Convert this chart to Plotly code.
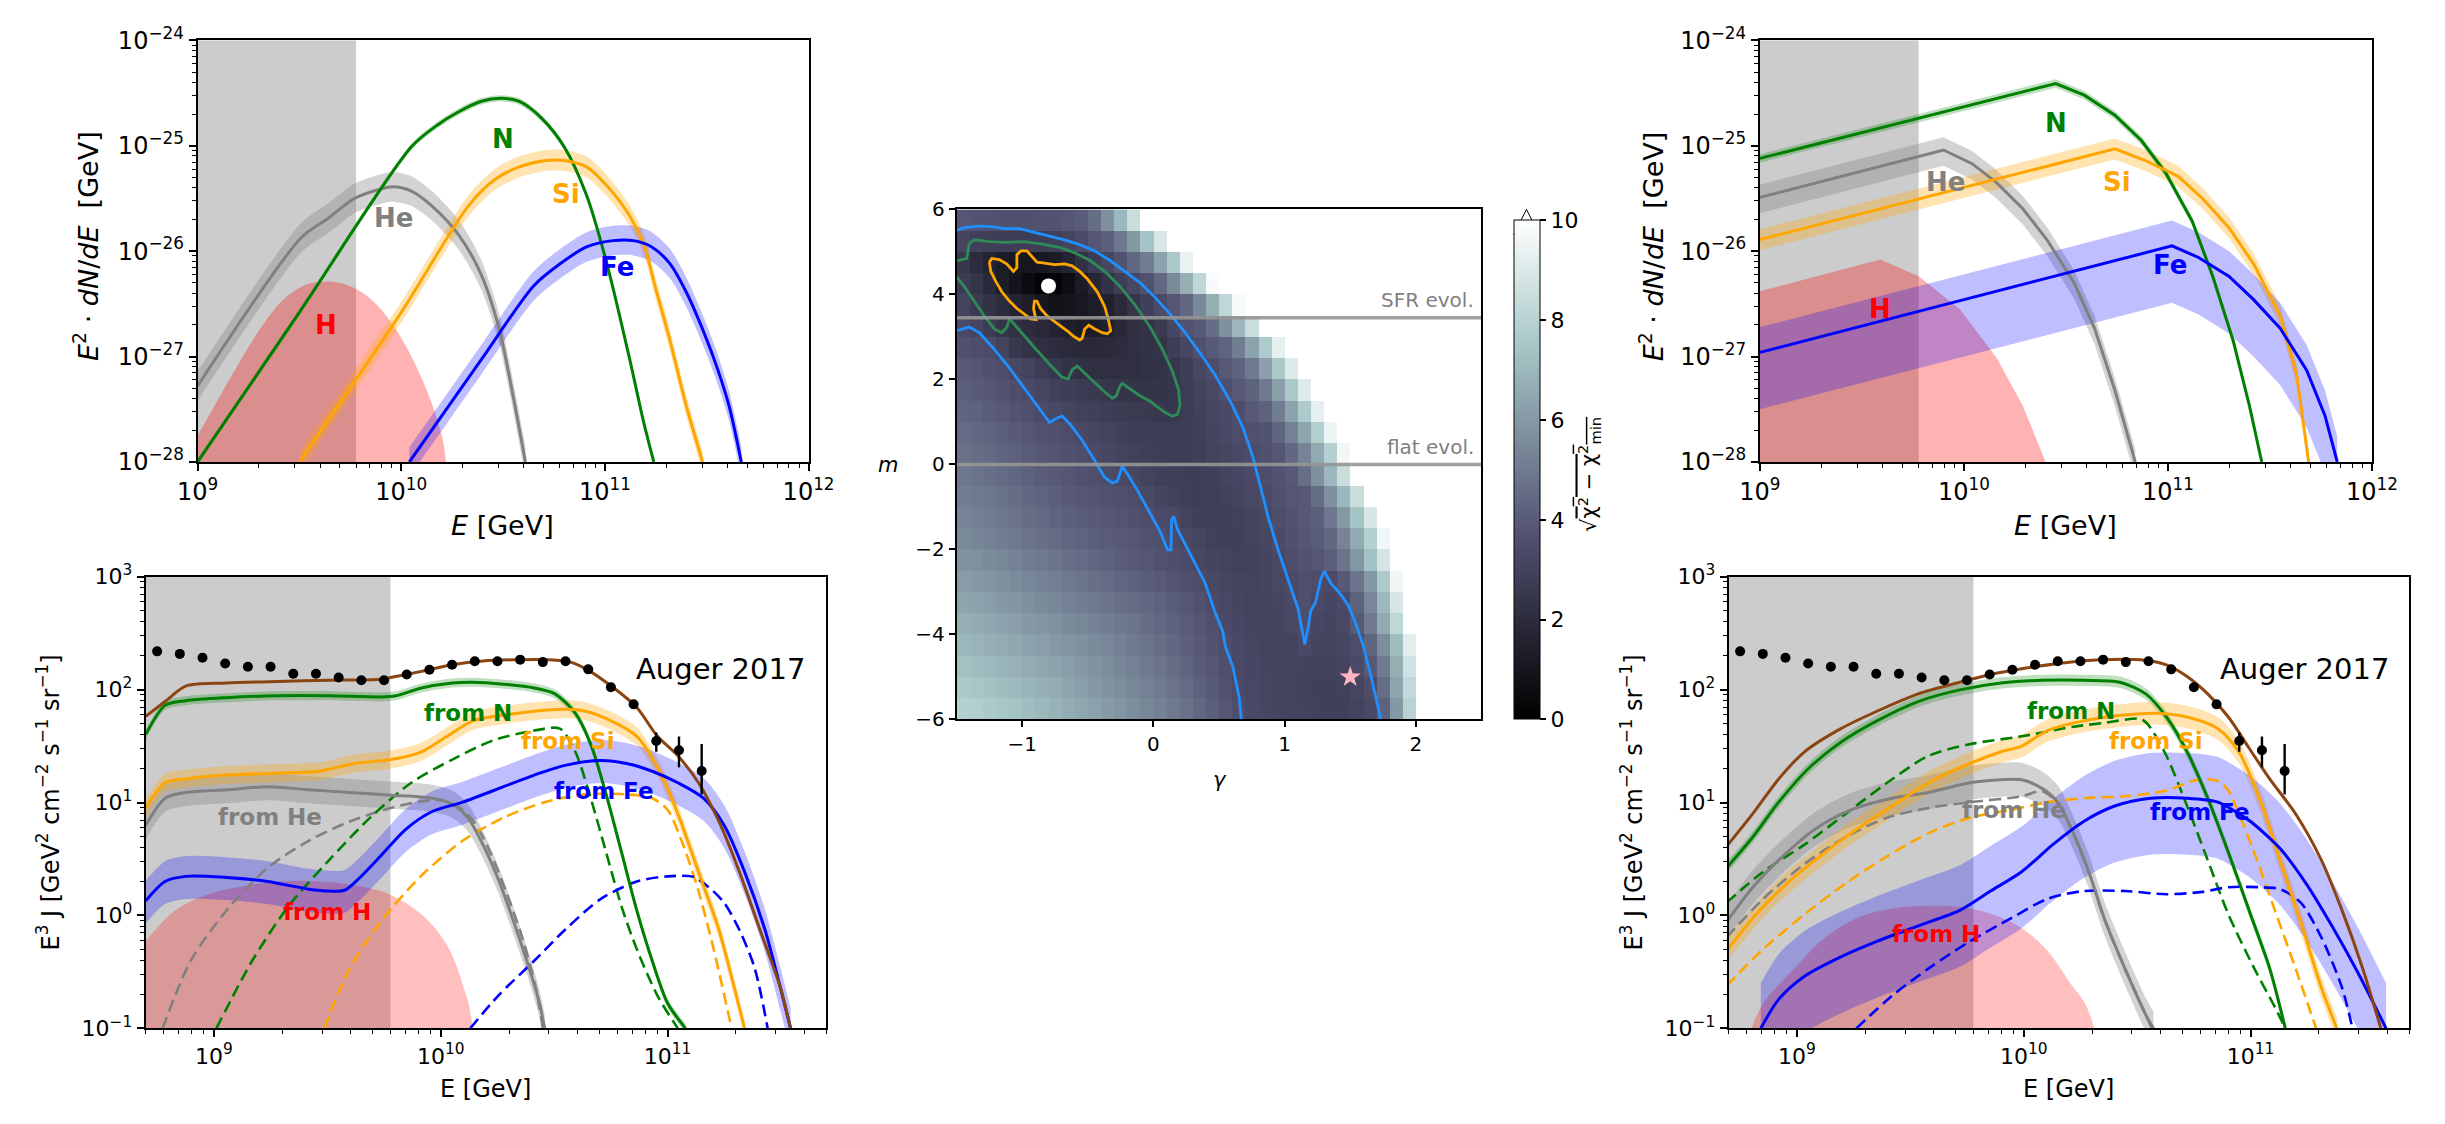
import numpy as np
import plotly.graph_objects as go

W, H = 2445, 1124

# ---------------- Auger 2017 combined spectrum (log10 E/GeV, E^3 J) ----------------
auger_logE = [8.75, 8.85, 8.95, 9.05, 9.15, 9.25, 9.35, 9.45, 9.55, 9.65, 9.75, 9.85, 9.95,
              10.05, 10.15, 10.25, 10.35, 10.45, 10.55, 10.65, 10.75, 10.85, 10.95, 11.05, 11.15]
auger_J = [218, 207, 191, 170, 159, 159, 138, 138, 128, 121, 121, 136, 150,
           166, 178, 178, 184, 175, 178, 151, 105, 74, 35, 29, 19]
auger_err_hi = [0] * 22 + [6.7, 9.5, 13.9]
auger_err_lo = [0] * 22 + [6.9, 8.5, 7.2]

# ---------------- source spectra, scenario A (log10 E, log10 E^2 dN/dE) ----------------
tl_He_E = [9.0, 9.51, 9.64, 9.77, 9.90, 9.96, 10.05, 10.15, 10.28, 10.39, 10.48, 10.54, 10.61]
tl_He_F = [-27.28, -25.87, -25.69, -25.50, -25.41, -25.39, -25.43, -25.57, -25.84, -26.21, -26.73, -27.28, -28.0]
tl_N_E = [9.0, 9.5, 10.05, 10.18, 10.28, 10.39, 10.49, 10.58, 10.69, 10.80, 10.91, 11.01, 11.12, 11.19, 11.24]
tl_N_F = [-28.0, -26.58, -25.01, -24.80, -24.68, -24.58, -24.55, -24.58, -24.74, -25.01, -25.47, -26.12, -27.01, -27.62, -28.0]
tl_Si_E = [9.50, 10.0, 10.33, 10.46, 10.58, 10.71, 10.80, 10.91, 11.01, 11.12, 11.19, 11.25, 11.32, 11.40, 11.48]
tl_Si_F = [-28.0, -26.58, -25.57, -25.32, -25.20, -25.14, -25.14, -25.20, -25.38, -25.66, -25.93, -26.36, -26.85, -27.47, -28.0]
tl_Fe_E = [10.04, 10.4, 10.65, 10.78, 10.91, 11.04, 11.14, 11.23, 11.32, 11.40, 11.49, 11.55, 11.61, 11.67]
tl_Fe_F = [-28.0, -27.01, -26.33, -26.12, -25.96, -25.90, -25.90, -25.96, -26.12, -26.39, -26.79, -27.1, -27.47, -28.0]
tl_H_E = [9.0, 9.10, 9.21, 9.32, 9.42, 9.53, 9.66, 9.77, 9.87, 9.98, 10.09, 10.18, 10.22]
tl_H_F = [-27.75, -27.41, -27.04, -26.70, -26.46, -26.32, -26.29, -26.35, -26.49, -26.76, -27.16, -27.62, -28.0]

# ---------------- source spectra, scenario B ----------------
tr_N_E = [9.0, 9.7, 10.45, 10.59, 10.74, 10.87, 10.99, 11.12, 11.22, 11.32, 11.40, 11.46]
tr_N_F = [-25.12, -24.78, -24.41, -24.52, -24.71, -24.95, -25.26, -25.72, -26.24, -26.85, -27.47, -28.0]
tr_He_E = [9.0, 9.90, 10.04, 10.16, 10.29, 10.41, 10.54, 10.64, 10.74, 10.84]
tr_He_F = [-25.49, -25.04, -25.17, -25.35, -25.60, -25.90, -26.30, -26.73, -27.32, -28.0]
tr_Si_E = [9.0, 10.74, 10.89, 11.05, 11.17, 11.30, 11.42, 11.55, 11.63, 11.69]
tr_Si_F = [-25.89, -25.03, -25.14, -25.29, -25.50, -25.78, -26.12, -26.61, -27.16, -28.0]
tr_Fe_E = [9.0, 11.02, 11.15, 11.30, 11.42, 11.55, 11.68, 11.77, 11.83]
tr_Fe_F = [-26.96, -25.95, -26.06, -26.24, -26.46, -26.73, -27.13, -27.56, -28.0]
tr_H_E = [9.0, 9.59, 9.78, 9.98, 10.16, 10.29, 10.40]
tr_H_F = [-26.38, -26.08, -26.24, -26.55, -27.01, -27.47, -28.0]

# ---------------- propagated spectra, scenario A (log10 E, log10 E^3 J) ----------------
bl_tot_E = [8.70, 8.785, 8.876, 9.056, 9.282, 9.508, 9.734, 9.802, 9.915, 10.051, 10.186, 10.322, 10.48,
            10.571, 10.638, 10.751, 10.864, 10.955, 11.045, 11.136, 11.226, 11.316, 11.407, 11.497, 11.542]
bl_tot_J = [1.764, 1.894, 2.031, 2.058, 2.072, 2.082, 2.092, 2.116, 2.161, 2.219, 2.253, 2.264, 2.264,
            2.243, 2.185, 2.031, 1.842, 1.586, 1.414, 1.175, 0.832, 0.387, -0.127, -0.640, -1.0]
bl_N_E = [8.70, 8.785, 8.876, 9.056, 9.282, 9.508, 9.734, 9.802, 9.915, 10.051, 10.141, 10.277, 10.412,
          10.503, 10.593, 10.661, 10.729, 10.797, 10.864, 10.932, 11.0, 11.079]
bl_N_J = [1.603, 1.860, 1.901, 1.928, 1.945, 1.945, 1.935, 1.945, 2.014, 2.058, 2.065, 2.048, 2.014,
          1.962, 1.791, 1.517, 1.072, 0.558, 0.045, -0.401, -0.777, -1.0]
bl_Si_E = [8.70, 8.785, 8.876, 9.056, 9.282, 9.463, 9.621, 9.78, 9.915, 10.028, 10.141, 10.277, 10.412,
           10.548, 10.638, 10.751, 10.864, 10.955, 11.045, 11.136, 11.226, 11.294, 11.339]
bl_Si_J = [0.952, 1.175, 1.209, 1.243, 1.260, 1.277, 1.346, 1.380, 1.449, 1.586, 1.723, 1.774, 1.808,
           1.825, 1.808, 1.723, 1.586, 1.312, 0.901, 0.387, -0.127, -0.640, -1.0]
bl_He_E = [8.70, 8.785, 8.876, 9.056, 9.237, 9.418, 9.599, 9.78, 9.96, 10.051, 10.119, 10.186, 10.254,
           10.322, 10.39, 10.435, 10.458]
bl_He_J = [0.798, 1.038, 1.089, 1.113, 1.140, 1.113, 1.089, 1.065, 1.038, 0.986, 0.866, 0.627, 0.318,
           -0.058, -0.469, -0.777, -1.0]
bl_Fe_E = [8.70, 8.785, 8.876, 9.056, 9.237, 9.418, 9.508, 9.576, 9.644, 9.734, 9.847, 9.96, 10.096,
           10.277, 10.412, 10.548, 10.706, 10.819, 10.932, 11.045, 11.158, 11.249, 11.339, 11.429, 11.497, 11.542]
bl_Fe_J = [0.130, 0.301, 0.346, 0.336, 0.301, 0.233, 0.216, 0.223, 0.336, 0.524, 0.764, 0.918, 1.003,
           1.140, 1.243, 1.329, 1.373, 1.346, 1.277, 1.175, 1.038, 0.798, 0.387, -0.127, -0.640, -1.0]
bl_He2_E = [8.774, 8.898, 9.056, 9.237, 9.418, 9.599, 9.78, 9.915, 10.0, 10.08, 10.15, 10.22, 10.29, 10.36, 10.42, 10.45]
bl_He2_J = [-1.0, -0.401, 0.045, 0.421, 0.661, 0.832, 0.952, 1.010, 1.02, 0.96, 0.82, 0.55, 0.2, -0.2, -0.65, -1.0]
bl_N2_E = [9.011, 9.169, 9.328, 9.508, 9.689, 9.87, 10.051, 10.232, 10.412, 10.525, 10.593, 10.661, 10.729,
           10.797, 10.864, 10.955, 11.045]
bl_N2_J = [-1.0, -0.401, 0.079, 0.490, 0.866, 1.175, 1.380, 1.551, 1.637, 1.654, 1.449, 1.038, 0.558,
           0.079, -0.298, -0.709, -1.0]
bl_Si2_E = [9.486, 9.599, 9.734, 9.915, 10.096, 10.277, 10.458, 10.638, 10.819, 10.932, 11.0, 11.068, 11.136, 11.203, 11.282]
bl_Si2_J = [-1.0, -0.469, -0.058, 0.353, 0.661, 0.866, 1.003, 1.072, 1.072, 1.038, 0.935, 0.627, 0.216, -0.298, -1.0]
bl_Fe2_E = [10.13, 10.254, 10.412, 10.548, 10.706, 10.864, 11.0, 11.113, 11.181, 11.249, 11.316, 11.384, 11.441]
bl_Fe2_J = [-1.0, -0.709, -0.401, -0.127, 0.147, 0.301, 0.346, 0.342, 0.250, 0.113, -0.127, -0.469, -1.0]
bl_H_E = [8.70, 8.83, 8.966, 9.102, 9.282, 9.463, 9.621, 9.78, 9.915, 10.028, 10.096, 10.141]
bl_H_J = [-0.229, 0.045, 0.182, 0.250, 0.301, 0.301, 0.267, 0.182, 0.010, -0.264, -0.606, -1.0]

# ---------------- propagated spectra, scenario B ----------------
br_tot_E = [8.69, 8.806, 8.92, 9.034, 9.194, 9.353, 9.535, 9.718, 9.854, 9.991, 10.173, 10.333, 10.515,
            10.629, 10.72, 10.811, 10.902, 10.993, 11.084, 11.198, 11.312, 11.403, 11.494, 11.574]
br_tot_J = [0.610, 0.901, 1.209, 1.449, 1.654, 1.808, 1.962, 2.065, 2.134, 2.185, 2.236, 2.264, 2.264,
            2.219, 2.116, 1.962, 1.757, 1.483, 1.209, 0.901, 0.490, 0.045, -0.469, -1.0]
br_N_E = [8.69, 8.806, 8.92, 9.057, 9.194, 9.353, 9.535, 9.718, 9.9, 10.082, 10.264, 10.424, 10.538,
          10.629, 10.72, 10.811, 10.902, 10.993, 11.084, 11.153]
br_N_J = [0.421, 0.695, 1.003, 1.312, 1.534, 1.723, 1.894, 1.997, 2.058, 2.082, 2.082, 2.065, 1.962,
          1.757, 1.449, 1.038, 0.558, 0.045, -0.469, -1.0]
br_Si_E = [8.69, 8.806, 8.92, 9.08, 9.239, 9.421, 9.581, 9.763, 9.9, 9.991, 10.105, 10.264, 10.446,
           10.583, 10.72, 10.856, 10.948, 11.039, 11.13, 11.221, 11.312, 11.38]
br_Si_J = [-0.315, -0.024, 0.216, 0.490, 0.729, 0.969, 1.175, 1.346, 1.449, 1.5, 1.637, 1.723, 1.774,
           1.791, 1.757, 1.654, 1.449, 1.038, 0.490, -0.058, -0.640, -1.0]
br_He_E = [8.69, 8.806, 8.92, 9.08, 9.239, 9.421, 9.581, 9.763, 9.9, 9.991, 10.082, 10.15, 10.219,
           10.287, 10.355, 10.446, 10.538, 10.572]
br_He_J = [-0.058, 0.250, 0.490, 0.764, 0.935, 1.038, 1.089, 1.175, 1.202, 1.202, 1.123, 1.003, 0.729,
           0.387, -0.024, -0.469, -0.880, -1.0]
br_Fe_E = [8.841, 8.92, 9.034, 9.194, 9.353, 9.535, 9.718, 9.854, 9.991, 10.128, 10.264, 10.401, 10.56,
           10.72, 10.856, 10.948, 11.0, 11.13, 11.244, 11.358, 11.472, 11.597]
br_Fe_J = [-1.0, -0.743, -0.538, -0.366, -0.229, -0.092, 0.045, 0.216, 0.387, 0.627, 0.832, 0.969, 1.038,
           1.038, 1.003, 0.901, 0.832, 0.592, 0.284, -0.092, -0.503, -1.0]
br_N2_E = [8.69, 8.852, 9.034, 9.216, 9.398, 9.581, 9.763, 9.991, 10.219, 10.355, 10.515, 10.549, 10.629,
           10.72, 10.811, 10.902, 11.016, 11.107, 11.153]
br_N2_J = [0.113, 0.387, 0.627, 0.901, 1.175, 1.414, 1.517, 1.586, 1.671, 1.705, 1.740, 1.688, 1.414,
           0.969, 0.490, 0.010, -0.469, -0.812, -1.0]
br_He2_E = [8.69, 8.852, 9.034, 9.216, 9.398, 9.581, 9.763, 9.991, 10.082, 10.15, 10.219, 10.287, 10.355, 10.446, 10.538, 10.565]
br_He2_J = [-0.195, 0.147, 0.456, 0.695, 0.866, 0.952, 1.003, 1.055, 1.10, 0.99, 0.72, 0.38, -0.03, -0.47, -0.88, -1.0]
br_Si2_E = [8.69, 8.852, 9.034, 9.216, 9.398, 9.581, 9.763, 9.945, 10.105, 10.264, 10.446, 10.629, 10.765,
            10.856, 10.902, 10.948, 11.016, 11.107, 11.198, 11.289]
br_Si2_J = [-0.623, -0.298, 0.010, 0.284, 0.524, 0.729, 0.866, 0.935, 1.003, 1.038, 1.055, 1.106, 1.202,
            1.192, 1.106, 0.901, 0.558, 0.045, -0.469, -1.0]
br_Fe2_E = [9.262, 9.421, 9.581, 9.763, 9.945, 10.105, 10.264, 10.446, 10.629, 10.788, 10.902, 11.039,
            11.13, 11.221, 11.312, 11.403, 11.449]
br_Fe2_J = [-1.0, -0.709, -0.469, -0.229, -0.024, 0.147, 0.216, 0.216, 0.188, 0.209, 0.250, 0.250,
            0.233, 0.113, -0.195, -0.640, -1.0]
br_H_E = [8.80, 8.852, 8.989, 9.125, 9.262, 9.421, 9.581, 9.763, 9.945, 10.082, 10.196, 10.31]
br_H_J = [-1.0, -0.777, -0.469, -0.195, -0.024, 0.062, 0.086, 0.062, -0.058, -0.264, -0.572, -1.0]

# ---------------- fit quality scan: sqrt(chi2 - chi2_min) over (gamma, m) ----------------
GAMMA_CENTERS = [round(-1.45 + 0.1 * i, 2) for i in range(40)]
M_CENTERS = [round(-5.75 + 0.5 * j, 2) for j in range(24)]
ABOVE_SCALE = 12.0
# rows from m = 5.75 (top) down to m = -5.75; cells past the listed values lie above the colour scale
CHI_ROWS_TOP_DOWN = [
    [3.8, 3.7, 3.65, 3.6, 3.6, 3.6, 3.65, 3.7, 3.8, 4.0, 4.6, 5.7, 7.0, 8.5, 10],
    [3.1, 2.9, 2.8, 2.75, 2.75, 2.75, 2.8, 2.9, 3.1, 3.4, 3.8, 4.1, 4.9, 6.0, 7.4, 8.9],
    [2.5, 2.0, 1.6, 1.3, 1.1, 1.0, 1.1, 1.3, 1.6, 2.2, 2.7, 3.2, 3.7, 4.4, 5.1, 6.3, 7.6, 9.4],
    [2.7, 2.4, 1.8, 1.3, 0.9, 0.5, 0.2, 0.2, 0.6, 1.2, 1.7, 2.3, 2.8, 3.2, 3.6, 4.4, 5.5, 6.7, 8.2, 9.8],
    [3.0, 2.6, 2.3, 2.0, 1.6, 1.3, 1.0, 0.8, 0.9, 1.1, 1.3, 1.5, 1.9, 2.4, 2.9, 3.4, 3.8, 4.4, 5.5, 6.7, 8.2, 9.8],
    [3.35, 3.1, 2.7, 2.4, 2.2, 2.0, 1.8, 1.6, 1.4, 1.3, 1.3, 1.5, 1.8, 2.1, 2.3, 2.6, 3.2, 3.7, 3.9, 4.6, 5.7, 7.0, 8.5, 10],
    [3.6, 3.5, 3.4, 3.0, 2.5, 2.3, 2.1, 2.0, 1.9, 1.85, 1.85, 1.9, 2.0, 2.1, 2.3, 2.4, 2.8, 3.2, 3.6, 3.95, 4.3, 5.1, 6.3, 7.7, 9.3],
    [3.9, 3.8, 3.6, 3.45, 3.2, 3.0, 2.7, 2.5, 2.3, 2.2, 2.1, 2.1, 2.1, 2.1, 2.2, 2.3, 2.45, 2.8, 3.2, 3.5, 3.9, 4.2, 5.0, 6.2, 7.6, 9.1],
    [4.1, 4.0, 3.85, 3.7, 3.5, 3.35, 3.15, 2.95, 2.8, 2.65, 2.55, 2.45, 2.4, 2.35, 2.35, 2.4, 2.45, 2.7, 3.0, 3.3, 3.55, 3.9, 4.2, 5.0, 6.2, 7.6, 9.1],
    [4.3, 4.2, 4.05, 3.9, 3.7, 3.55, 3.4, 3.25, 3.1, 2.95, 2.85, 2.75, 2.65, 2.6, 2.55, 2.5, 2.45, 2.7, 2.95, 3.15, 3.35, 3.5, 3.9, 4.2, 5.1, 6.3, 7.7, 9.3],
    [4.5, 4.4, 4.25, 4.1, 3.95, 3.8, 3.65, 3.55, 3.45, 3.3, 3.15, 3.0, 2.9, 2.8, 2.75, 2.7, 2.7, 2.75, 2.9, 3.1, 3.3, 3.45, 3.6, 3.7, 4.3, 5.2, 6.4, 7.8, 9.5],
    [4.7, 4.6, 4.45, 4.3, 4.15, 4.0, 3.85, 3.75, 3.6, 3.5, 3.4, 3.2, 3.05, 2.95, 2.85, 2.8, 2.75, 2.75, 2.85, 3.0, 3.15, 3.3, 3.45, 3.6, 3.8, 4.4, 5.3, 6.5, 7.9, 9.6],
    [4.9, 4.8, 4.65, 4.5, 4.35, 4.2, 4.05, 3.9, 3.8, 3.65, 3.55, 3.45, 3.35, 3.2, 3.0, 2.9, 2.85, 2.8, 2.8, 2.9, 3.05, 3.2, 3.35, 3.5, 3.7, 3.9, 4.6, 5.7, 7.0, 8.5, 10],
    [5.1, 5.0, 4.85, 4.7, 4.55, 4.4, 4.25, 4.1, 3.95, 3.85, 3.75, 3.65, 3.55, 3.45, 3.3, 3.1, 2.95, 2.85, 2.8, 2.85, 2.95, 3.1, 3.25, 3.4, 3.6, 3.8, 3.9, 4.6, 5.7, 7.0, 8.5, 10],
    [5.3, 5.2, 5.05, 4.9, 4.75, 4.6, 4.45, 4.3, 4.15, 4.05, 3.95, 3.85, 3.75, 3.6, 3.5, 3.4, 3.3, 3.0, 2.9, 2.85, 2.85, 2.95, 3.1, 3.3, 3.5, 3.7, 3.9, 4.1, 4.9, 6.0, 7.4, 8.9],
    [5.5, 5.4, 5.25, 5.1, 4.95, 4.8, 4.65, 4.5, 4.35, 4.25, 4.1, 4.0, 3.9, 3.8, 3.65, 3.55, 3.4, 3.25, 3.1, 2.95, 2.9, 2.9, 3.0, 3.2, 3.4, 3.6, 3.8, 4.0, 4.4, 5.3, 6.5, 7.9, 9.6],
    [5.8, 5.7, 5.55, 5.4, 5.25, 5.1, 4.95, 4.8, 4.65, 4.5, 4.35, 4.2, 4.05, 3.9, 3.8, 3.65, 3.5, 3.4, 3.25, 3.1, 3.0, 2.95, 2.95, 3.1, 3.3, 3.5, 3.7, 3.8, 4.1, 4.8, 5.9, 7.3, 8.8],
    [6.1, 6.0, 5.85, 5.7, 5.55, 5.4, 5.25, 5.1, 4.95, 4.8, 4.65, 4.5, 4.35, 4.2, 4.05, 3.9, 3.75, 3.6, 3.45, 3.3, 3.15, 3.05, 3.0, 3.1, 3.25, 3.4, 3.55, 3.45, 3.4, 3.9, 4.8, 6.0, 7.7, 9.6],
    [6.4, 6.3, 6.15, 6.0, 5.85, 5.7, 5.55, 5.4, 5.25, 5.1, 4.95, 4.8, 4.65, 4.5, 4.35, 4.2, 4.0, 3.8, 3.6, 3.4, 3.25, 3.1, 3.0, 3.0, 3.15, 3.35, 3.55, 3.35, 3.2, 3.4, 4.2, 5.4, 7.0, 8.9],
    [6.7, 6.6, 6.45, 6.3, 6.15, 6.0, 5.85, 5.7, 5.55, 5.4, 5.25, 5.1, 4.95, 4.8, 4.6, 4.4, 4.2, 4.0, 3.8, 3.55, 3.35, 3.2, 3.05, 3.0, 3.05, 3.25, 3.5, 3.2, 3.1, 3.3, 3.9, 5.0, 6.5, 8.2, 10],
    [7.0, 6.9, 6.75, 6.6, 6.45, 6.3, 6.15, 6.0, 5.85, 5.7, 5.55, 5.4, 5.2, 5.0, 4.8, 4.6, 4.4, 4.15, 3.9, 3.65, 3.45, 3.3, 3.15, 3.05, 3.0, 3.05, 3.3, 3.1, 3.05, 3.2, 3.5, 4.3, 5.6, 7.2, 9.2],
    [7.3, 7.2, 7.05, 6.9, 6.75, 6.6, 6.45, 6.3, 6.15, 6.0, 5.8, 5.6, 5.4, 5.2, 5.0, 4.8, 4.55, 4.3, 4.05, 3.8, 3.55, 3.35, 3.2, 3.1, 3.05, 3.0, 3.0, 2.95, 2.95, 3.05, 3.35, 3.9, 5.0, 6.7, 8.7],
    [7.6, 7.5, 7.35, 7.2, 7.05, 6.9, 6.75, 6.6, 6.4, 6.2, 6.0, 5.8, 5.6, 5.4, 5.2, 5.0, 4.75, 4.5, 4.2, 3.95, 3.65, 3.4, 3.25, 3.15, 3.05, 3.0, 2.95, 2.9, 2.9, 2.95, 3.15, 3.5, 4.6, 6.4, 8.3],
    [7.9, 7.8, 7.65, 7.5, 7.35, 7.2, 7.0, 6.85, 6.65, 6.45, 6.25, 6.05, 5.85, 5.6, 5.4, 5.2, 4.95, 4.7, 4.4, 4.1, 3.8, 3.5, 3.3, 3.2, 3.1, 3.05, 3.0, 2.95, 2.9, 2.9, 3.0, 3.3, 4.2, 6.0, 8.0, 10],
]

# confidence contours (gamma, m)
c1_g = [-1.251, -1.232, -1.175, -1.117, -1.067, -1.041, -1.041, -1.010, -0.964, -0.926, -0.888, -0.830, -0.754,
        -0.677, -0.620, -0.562, -0.505, -0.428, -0.371, -0.344, -0.325, -0.352, -0.390, -0.447, -0.493, -0.524,
        -0.543, -0.562, -0.608, -0.658, -0.734, -0.811, -0.861, -0.888, -0.907, -0.914, -0.895, -0.937, -0.983,
        -1.041, -1.098, -1.156, -1.205, -1.240, -1.251]
c1_m = [4.760, 4.847, 4.821, 4.716, 4.541, 4.629, 4.934, 5.022, 5.022, 4.891, 4.760, 4.734, 4.699,
        4.716, 4.672, 4.541, 4.367, 4.061, 3.712, 3.406, 3.144, 3.074, 3.100, 3.188, 3.275, 3.188,
        2.969, 2.926, 3.013, 3.144, 3.319, 3.493, 3.668, 3.843, 3.843, 3.668, 3.406, 3.424, 3.537,
        3.668, 3.843, 4.061, 4.323, 4.541, 4.760]
c2_g = [-1.50, -1.423, -1.404, -1.366, -1.251, -1.136, -0.983, -0.868, -0.715, -0.600, -0.486, -0.371, -0.256,
        -0.141, -0.026, 0.069, 0.146, 0.192, 0.203, 0.184, 0.146, 0.089, 0.012, -0.026, -0.103, -0.179,
        -0.237, -0.256, -0.283, -0.313, -0.371, -0.447, -0.524, -0.581, -0.620, -0.650, -0.696, -0.792,
        -0.907, -1.002, -1.079, -1.098, -1.117, -1.156, -1.213, -1.289, -1.385, -1.443, -1.50]
c2_m = [4.786, 4.847, 5.197, 5.284, 5.240, 5.223, 5.240, 5.197, 5.109, 4.978, 4.803, 4.541, 4.192,
        3.755, 3.231, 2.707, 2.183, 1.747, 1.397, 1.179, 1.135, 1.223, 1.397, 1.485, 1.616, 1.790,
        1.904, 1.834, 1.616, 1.555, 1.703, 1.921, 2.140, 2.314, 2.227, 2.009, 2.052, 2.358,
        2.751, 3.100, 3.362, 3.406, 3.231, 3.100, 3.188, 3.493, 3.930, 4.192, 4.410]
c3a_g = [-1.50, -1.443, -1.328, -1.213, -1.136, -1.021, -0.907, -0.792, -0.677, -0.562, -0.447, -0.333, -0.218,
         -0.103, 0.012, 0.127, 0.242, 0.356, 0.471, 0.586, 0.682, 0.758, 0.816, 0.873, 0.950, 1.026, 1.103,
         1.141, 1.153, 1.179, 1.199, 1.237, 1.275, 1.302, 1.352, 1.428, 1.486, 1.543, 1.601, 1.658, 1.696, 1.734]
c3a_m = [5.502, 5.572, 5.607, 5.590, 5.546, 5.546, 5.459, 5.371, 5.284, 5.170, 5.022, 4.803, 4.541,
         4.279, 3.930, 3.537, 3.100, 2.620, 2.096, 1.485, 0.873, 0.175, -0.524, -1.223, -2.009, -2.707, -3.406,
         -4.017, -4.236, -3.843, -3.450, -3.232, -2.707, -2.507, -2.795, -3.057, -3.319, -3.755, -4.279, -4.978, -5.502, -6.0]
c3b_g = [-1.50, -1.443, -1.404, -1.328, -1.213, -1.098, -0.983, -0.868, -0.792, -0.734, -0.696, -0.639, -0.543,
         -0.447, -0.371, -0.313, -0.275, -0.237, -0.199, -0.122, -0.026, 0.050, 0.108, 0.134, 0.138, 0.154,
         0.184, 0.280, 0.395, 0.471, 0.529, 0.548, 0.605, 0.655, 0.670]
c3b_m = [3.144, 3.188, 3.231, 3.100, 2.707, 2.271, 1.790, 1.310, 0.987, 1.092, 1.135, 0.961, 0.568,
         0.087, -0.306, -0.437, -0.393, -0.044, -0.218, -0.611, -1.135, -1.572, -2.009, -2.009, -1.310, -1.223,
         -1.528, -2.096, -2.795, -3.493, -3.930, -4.279, -4.760, -5.502, -6.0]
best_fit = (-0.8, 4.2)
alt_fit = (1.5, -5.0)
SFR_M, FLAT_M = 3.45, 0.0

# tick labels
top_x_ticks = [1e9, 1e10, 1e11, 1e12]
top_y_ticks = [1e-28, 1e-27, 1e-26, 1e-25, 1e-24]
bot_x_ticks = [1e9, 1e10, 1e11]
bot_y_ticks = [0.1, 1, 10, 100, 1000]

# ---------------- styling ----------------
FONT = "DejaVu Sans"
C_GREEN, C_ORANGE, C_GREY, C_BLUE, C_RED, C_BROWN = "#008000", "#FFA500", "#808080", "#0000FF", "#FF0000", "#8B4513"
BAND = {"N": "rgba(0,128,0,0.25)", "Si": "rgba(255,165,0,0.30)", "He": "rgba(128,128,128,0.35)", "Fe": "rgba(0,0,255,0.25)"}
BONE = [[0.0, "rgb(0,0,0)"], [0.365079, "rgb(81,81,113)"], [0.746032, "rgb(166,198,198)"], [1.0, "rgb(255,255,255)"]]
LW = 3.0

AX = {"tl": ("x", "y"), "c": ("x2", "y2"), "tr": ("x3", "y3"), "bl": ("x4", "y4"), "br": ("x5", "y5")}

fig = go.Figure()


def add(panel, **kw):
    xa, ya = AX[panel]
    fig.add_trace(go.Scatter(xaxis=xa, yaxis=ya, showlegend=False, hoverinfo="skip", **kw))


def pow10(v):
    return [10 ** a for a in v]


def shade_region(panel, x0, x1, y0, y1):
    add(panel, x=[x0, x1, x1, x0, x0], y=[y0, y0, y1, y1, y0], mode="lines", line=dict(width=0),
        fill="toself", fillcolor="rgba(128,128,128,0.4)")


def fill_under(panel, le, lf, color, shape):
    x = pow10(le) + [10 ** le[-1], 10 ** le[0]]
    y = pow10(lf) + [1e-40, 1e-40]
    add(panel, x=x, y=y, mode="lines", line=dict(width=0, shape=shape), fill="toself", fillcolor=color)


def band(panel, le, lf, lo, hi, color, shape):
    x = pow10(le)
    add(panel, x=x, y=[10 ** (v - lo) for v in lf], mode="lines", line=dict(width=0, shape=shape, smoothing=0.8))
    add(panel, x=x, y=[10 ** (v + hi) for v in lf], mode="lines", line=dict(width=0, shape=shape, smoothing=0.8),
        fill="tonexty", fillcolor=color)


def curve(panel, le, lf, color, shape, dash="solid", width=LW):
    add(panel, x=pow10(le), y=pow10(lf), mode="lines",
        line=dict(color=color, width=width, dash=dash, shape=shape, smoothing=0.8))


# ---------- source spectra panels ----------
for panel, shape, specs, hfill in [
    ("tl", "spline",
     [("He", tl_He_E, tl_He_F, C_GREY, 0.14, 0.14), ("N", tl_N_E, tl_N_F, C_GREEN, 0.03, 0.03),
      ("Si", tl_Si_E, tl_Si_F, C_ORANGE, 0.10, 0.10), ("Fe", tl_Fe_E, tl_Fe_F, C_BLUE, 0.14, 0.14)],
     (tl_H_E, tl_H_F)),
    ("tr", "linear",
     [("He", tr_He_E, tr_He_F, C_GREY, 0.15, 0.12), ("N", tr_N_E, tr_N_F, C_GREEN, 0.04, 0.04),
      ("Si", tr_Si_E, tr_Si_F, C_ORANGE, 0.10, 0.10), ("Fe", tr_Fe_E, tr_Fe_F, C_BLUE, 0.54, 0.24)],
     (tr_H_E, tr_H_F)),
]:
    shade_region(panel, 1e9, 6e9, 1e-28, 1e-24)
    fill_under(panel, hfill[0], hfill[1], "rgba(255,0,0,0.3)", shape)
    for name, le, lf, col, lo, hi in specs:
        band(panel, le, lf, lo, hi, BAND[name], shape)
    for name, le, lf, col, lo, hi in specs:
        curve(panel, le, lf, col, shape)

# ---------- propagated spectra panels ----------
for panel, data in [
    ("bl", dict(tot=(bl_tot_E, bl_tot_J), H=(bl_H_E, bl_H_J),
                solid=[("He", bl_He_E, bl_He_J, C_GREY, 0.12, 0.12), ("N", bl_N_E, bl_N_J, C_GREEN, 0.04, 0.04),
                       ("Si", bl_Si_E, bl_Si_J, C_ORANGE, 0.08, 0.08), ("Fe", bl_Fe_E, bl_Fe_J, C_BLUE, 0.2, 0.18)],
                dashed=[(bl_He2_E, bl_He2_J, C_GREY), (bl_N2_E, bl_N2_J, C_GREEN),
                        (bl_Si2_E, bl_Si2_J, C_ORANGE), (bl_Fe2_E, bl_Fe2_J, C_BLUE)])),
    ("br", dict(tot=(br_tot_E, br_tot_J), H=(br_H_E, br_H_J),
                solid=[("He", br_He_E, br_He_J, C_GREY, 0.15, 0.15), ("N", br_N_E, br_N_J, C_GREEN, 0.05, 0.05),
                       ("Si", br_Si_E, br_Si_J, C_ORANGE, 0.10, 0.10), ("Fe", br_Fe_E, br_Fe_J, C_BLUE, 0.5, 0.4)],
                dashed=[(br_He2_E, br_He2_J, C_GREY), (br_N2_E, br_N2_J, C_GREEN),
                        (br_Si2_E, br_Si2_J, C_ORANGE), (br_Fe2_E, br_Fe2_J, C_BLUE)])),
]:
    shade_region(panel, 5e8, 6e9, 0.1, 1000)
    fill_under(panel, data["H"][0], data["H"][1], "rgba(255,0,0,0.25)", "spline")
    for name, le, lf, col, lo, hi in data["solid"]:
        band(panel, le, lf, lo, hi, BAND[name], "spline")
    for le, lf, col in data["dashed"]:
        curve(panel, le, lf, col, "spline", dash="12px,6px", width=2.6)
    for name, le, lf, col, lo, hi in data["solid"]:
        curve(panel, le, lf, col, "spline")
    curve(panel, data["tot"][0], data["tot"][1], C_BROWN, "spline")
    add(panel, x=pow10(auger_logE), y=auger_J, mode="markers",
        marker=dict(color="black", size=10),
        error_y=dict(type="data", array=auger_err_hi, arrayminus=auger_err_lo, color="black",
                     thickness=2.4, width=0))

# ---------- fit scan heatmap ----------
z_rows = [row + [ABOVE_SCALE] * (len(GAMMA_CENTERS) - len(row)) for row in CHI_ROWS_TOP_DOWN]
Z = np.array(z_rows[::-1])
fig.add_trace(go.Heatmap(
    x=GAMMA_CENTERS, y=M_CENTERS, z=Z, xaxis="x2", yaxis="y2", colorscale=BONE, zmin=0, zmax=10,
    hoverinfo="skip",
    colorbar=dict(x=1522 / W, xanchor="left", xpad=0, y=1 - 722 / H, yanchor="bottom", ypad=0,
                  lenmode="pixels", len=499, thickness=26, outlinewidth=1, outlinecolor="black",
                  ticks="outside", ticklen=6, tickwidth=1.5, tickcolor="black",
                  tickvals=[0, 2, 4, 6, 8, 10], tickfont=dict(family=FONT, size=22, color="black")),
))
for gx, my in [(c3a_g, c3a_m), (c3b_g, c3b_m)]:
    add("c", x=gx, y=my, mode="lines", line=dict(color="#1E90FF", width=2.8))
add("c", x=c2_g, y=c2_m, mode="lines", line=dict(color="#2E8B57", width=2.8))
add("c", x=c1_g, y=c1_m, mode="lines", line=dict(color=C_ORANGE, width=2.8))
for mv in (SFR_M, FLAT_M):
    add("c", x=[-1.5, 2.5], y=[mv, mv], mode="lines", line=dict(color="rgba(150,150,150,0.9)", width=3.5))
add("c", x=[best_fit[0]], y=[best_fit[1]], mode="markers", marker=dict(color="white", size=15))
add("c", x=[alt_fit[0]], y=[alt_fit[1]], mode="markers", marker=dict(color="#FFB6C1", size=16, symbol="star"))


# ---------- axes ----------
def sup_label(v):
    e = int(round(np.log10(v)))
    return "10<sup>" + (str(e) if e >= 0 else "−" + str(-e)) + "</sup>"


def log_axis(domain, rng, anchor, ticks, size):
    return dict(domain=domain, range=rng, anchor=anchor, type="log",
                tickmode="array", tickvals=ticks, ticktext=[sup_label(t) for t in ticks],
                showline=True, mirror=True, linecolor="black", linewidth=1.8, showgrid=False, zeroline=False,
                ticks="outside", ticklen=7, tickwidth=1.5, tickcolor="black",
                tickfont=dict(family=FONT, size=size, color="black"),
                minor=dict(ticks="outside", ticklen=4, tickwidth=1, tickcolor="black", dtick="D1", showgrid=False))


def lin_axis(domain, rng, anchor, dtick):
    return dict(domain=domain, range=rng, anchor=anchor, dtick=dtick,
                showline=True, mirror=True, linecolor="black", linewidth=1.8, showgrid=False, zeroline=False,
                ticks="outside", ticklen=6, tickwidth=1.5, tickcolor="black",
                tickfont=dict(family=FONT, size=20, color="black"))


top_y = [1 - 457 / H, 1 - 23 / H]
bot_y = [1 - 1040 / H, 1 - 575 / H]
fig.update_layout(
    xaxis=log_axis([180 / W, 803 / W], [9, 12], "y", top_x_ticks, 24),
    yaxis=log_axis(top_y, [-28, -24], "x", top_y_ticks, 24),
    xaxis2=lin_axis([954 / W, 1489 / W], [-1.5, 2.5], "y2", 1),
    yaxis2=lin_axis([1 - 722 / H, 1 - 197 / H], [-6, 6], "x2", 2),
    xaxis3=log_axis([1773 / W, 2397 / W], [9, 12], "y3", top_x_ticks, 24),
    yaxis3=log_axis(top_y, [-28, -24], "x3", top_y_ticks, 24),
    xaxis4=log_axis([127 / W, 821 / W], [np.log10(5e8), np.log10(5e11)], "y4", bot_x_ticks, 22),
    yaxis4=log_axis(bot_y, [-1, 3], "x4", bot_y_ticks, 22),
    xaxis5=log_axis([1741 / W, 2435 / W], [np.log10(5e8), np.log10(5e11)], "y5", bot_x_ticks, 22),
    yaxis5=log_axis(bot_y, [-1, 3], "x5", bot_y_ticks, 22),
)

# ---------- text ----------
ann = []


def paper_text(px, py, text, size, angle=0, color="black"):
    ann.append(dict(x=px / W, y=1 - py / H, xref="paper", yref="paper", text=text, showarrow=False,
                    textangle=angle, font=dict(family=FONT, size=size, color=color),
                    xanchor="center", yanchor="middle"))


def data_text(panel, lx, ly, text, size, color, bold=True, xanchor="center"):
    xa, ya = AX[panel]
    ann.append(dict(x=lx, y=ly, xref=xa, yref=ya, text=f"<b>{text}</b>" if bold else text, showarrow=False,
                    font=dict(family=FONT, size=size, color=color), xanchor=xanchor, yanchor="middle"))


src_title = "<i>E</i><sup>2</sup> · <i>dN</i>/<i>dE</i>  [GeV]"
flux_title = "E<sup>3</sup> J [GeV<sup>2</sup> cm<sup>−2</sup> s<sup>−1</sup> sr<sup>−1</sup>]"
paper_text(66, 235, src_title, 27, -90)
paper_text(1662, 235, src_title, 27, -90)
paper_text(491, 522, "<i>E</i> [GeV]", 27)
paper_text(2085, 522, "<i>E</i> [GeV]", 27)
paper_text(28, 807, flux_title, 24, -90)
paper_text(1643, 807, flux_title, 24, -90)
paper_text(474, 1102, "E [GeV]", 24)
paper_text(2088, 1102, "E [GeV]", 24)
paper_text(884, 460, "<i>m</i>", 21)
paper_text(1222, 784, "<i>γ</i>", 21)
paper_text(1598, 470, "√<span style='text-decoration:overline'>χ<sup>2</sup> − χ<sup>2</sup><sub>min</sub></span>", 21, -90)

for panel, labels in [
    ("tl", [(10.5, -24.94, "N", C_GREEN), (10.81, -25.46, "Si", C_ORANGE), (9.96, -25.69, "He", C_GREY),
            (11.06, -26.15, "Fe", C_BLUE), (9.63, -26.70, "H", C_RED)]),
    ("tr", [(10.45, -24.78, "N", C_GREEN), (10.75, -25.34, "Si", C_ORANGE), (9.91, -25.34, "He", C_GREY),
            (11.01, -26.13, "Fe", C_BLUE), (9.59, -26.55, "H", C_RED)]),
]:
    for lx, ly, t, c in labels:
        data_text(panel, lx, ly, t, 26, c)

for panel, labels in [
    ("bl", [(10.119, 1.791, "from N", C_GREEN), (10.559, 1.545, "from Si", C_ORANGE),
            (9.249, 0.873, "from He", C_GREY), (10.718, 1.106, "from Fe", C_BLUE), (9.497, 0.034, "from H", C_RED)]),
    ("br", [(10.207, 1.808, "from N", C_GREEN), (10.583, 1.545, "from Si", C_ORANGE),
            (9.957, 0.935, "from He", C_GREY), (10.777, 0.918, "from Fe", C_BLUE), (9.615, -0.168, "from H", C_RED)]),
]:
    for lx, ly, t, c in labels:
        data_text(panel, lx, ly, t, 23, c)
    data_text(panel, 10.853 if panel == "bl" else 10.856, 2.185, "Auger 2017", 29, "black", bold=False, xanchor="left")

ann.append(dict(x=2.46, y=SFR_M + 0.08, xref="x2", yref="y2", text="SFR evol.", showarrow=False,
                xanchor="right", yanchor="bottom", font=dict(family=FONT, size=20, color="#808080")))
ann.append(dict(x=2.46, y=FLAT_M + 0.08, xref="x2", yref="y2", text="flat evol.", showarrow=False,
                xanchor="right", yanchor="bottom", font=dict(family=FONT, size=20, color="#808080")))

# colour bar extension arrow
tri = f"M {1522 / W},{1 - 223 / H} L {1548 / W},{1 - 223 / H} L {1535 / W},{1 - 197 / H} Z"
fig.update_layout(
    width=W, height=H, margin=dict(l=0, r=0, t=0, b=0),
    paper_bgcolor="white", plot_bgcolor="white",
    font=dict(family=FONT, size=18, color="black"),
    annotations=ann,
    shapes=[dict(type="path", path=tri, xref="paper", yref="paper", fillcolor="white",
                 line=dict(color="black", width=1))],
    showlegend=False,
)

fig.write_html("out.html", config={"displayModeBar": False})
